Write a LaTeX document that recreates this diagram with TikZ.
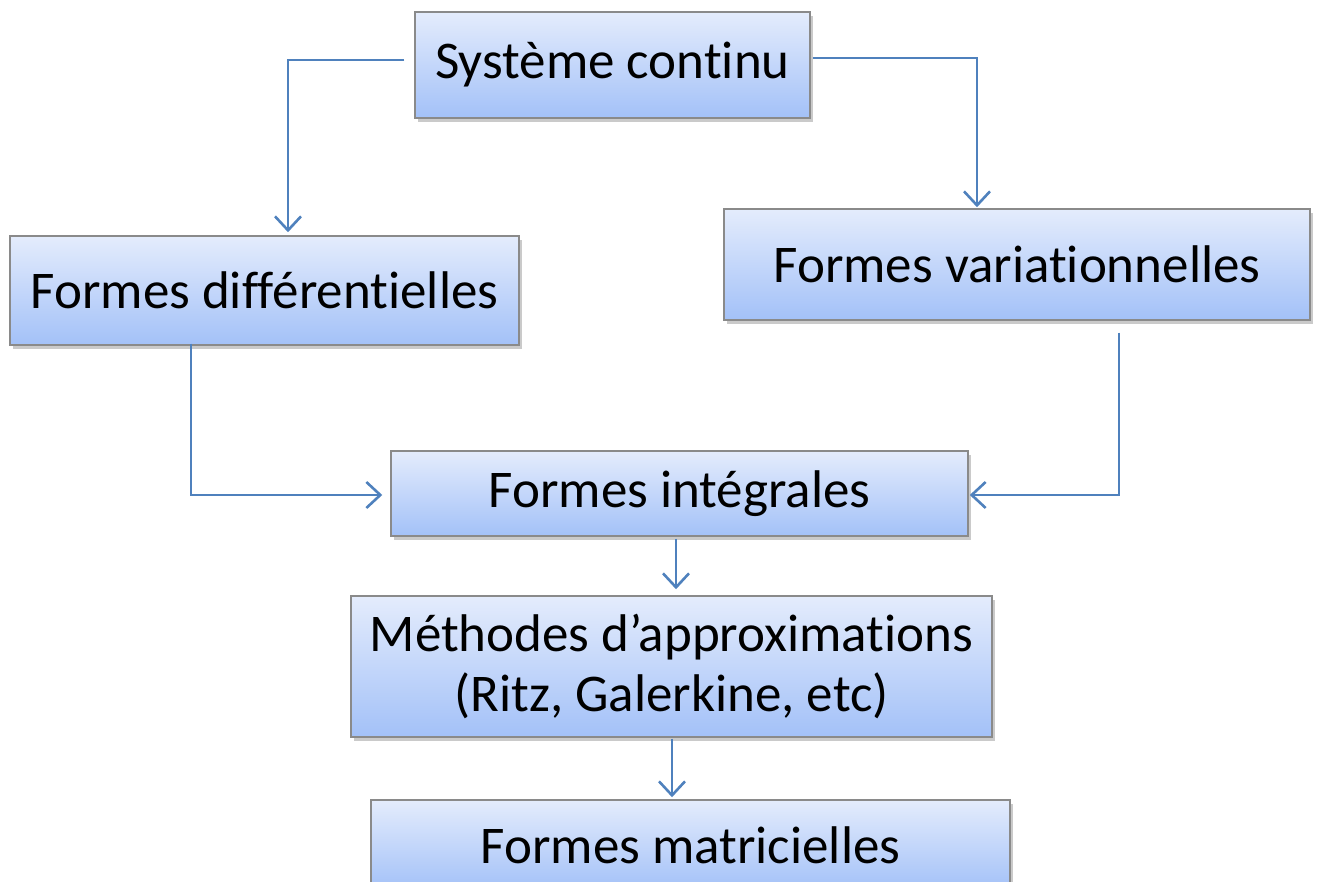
\documentclass[tikz,border=0pt]{standalone}
\usepackage{fontspec}
\setmainfont{Carlito}[Ligatures={NoCommon}]
\usetikzlibrary{arrows.meta,shadows,calc}
\definecolor{boxtop}{HTML}{E4ECFC}
\definecolor{boxbot}{HTML}{A3C1F8}
\definecolor{boxborder}{HTML}{8A8A8A}
\definecolor{conncol}{HTML}{4F81BD}
\tikzset{
  box/.style={draw=boxborder, line width=1.5pt, top color=boxtop, bottom color=boxbot,
    inner sep=0pt, align=center, font=\fontsize{53}{60}\selectfont,
    drop shadow={opacity=0.35, shadow xshift=3pt, shadow yshift=-4pt, fill=black!60}},
  conn/.style={draw=conncol, line width=2.6pt, -{Straight Barb[length=14pt,width=26pt,line width=2.6pt]}}
}
\begin{document}
\begin{tikzpicture}[x=1pt,y=-1pt]
\useasboundingbox (0,0) rectangle (1317,882);
\clip (0,0) rectangle (1317,882);
\node[box, minimum width=395, minimum height=106] (sys) at (612.5,65) {Système continu};
\node[box, minimum width=509, minimum height=109] (diff) at (264.5,290.5) {Formes différentielles};
\node[box, minimum width=586, minimum height=111] (var) at (1017,264.5) {Formes variationnelles};
\node[box, minimum width=577, minimum height=85] (integ) at (679.5,493.5) {Formes intégrales};
\node[box, minimum width=641, minimum height=141] (meth) at (671.5,666.5) {Méthodes d’approximations\\(Ritz, Galerkine, etc)};
\node[box, minimum width=639, minimum height=90] (matr) at (690.5,845) {Formes matricielles};
\draw[conn] ([xshift=-10pt,yshift=5pt]sys.west) -| ([xshift=23.5pt,yshift=3pt]diff.north);
\draw[conn] ([xshift=2pt,yshift=7pt]sys.east) -| ([xshift=-40pt,yshift=1pt]var.north);
\draw[conn] ([xshift=-73.5pt,yshift=2pt]diff.south) |- ([xshift=-8pt,yshift=-1.5pt]integ.west);
\draw[conn] ([xshift=102pt,yshift=-12pt]var.south) |- ([xshift=1pt,yshift=-1.5pt]integ.east);
\coordinate (a1) at ([xshift=-3.5pt,yshift=-2pt]integ.south);
\draw[conn] (a1) -- ([yshift=6pt]a1 |- meth.north);
\coordinate (a2) at ([xshift=0.5pt,yshift=-1pt]meth.south);
\draw[conn] (a2) -- ([yshift=2pt]a2 |- matr.north);
\end{tikzpicture}
\end{document}
